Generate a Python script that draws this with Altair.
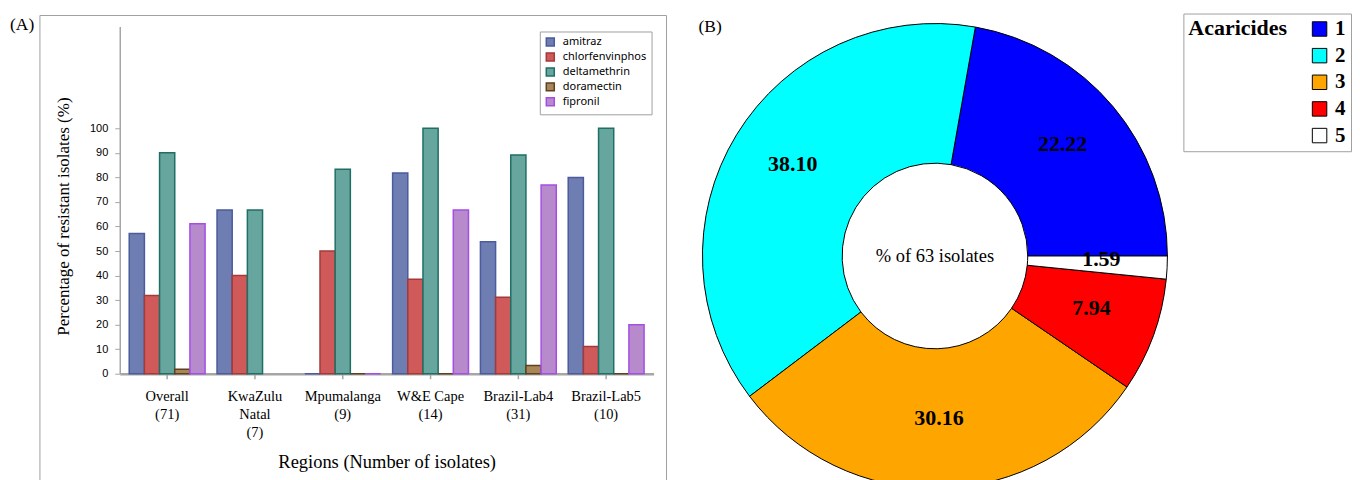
import math
import altair as alt
import pandas as pd

# ---------------- data ----------------
regions = ["Overall|(71)", "KwaZulu|Natal|(7)", "Mpumalanga|(9)",
           "W&E Cape|(14)", "Brazil-Lab4|(31)", "Brazil-Lab5|(10)"]
drugs = ["amitraz", "chlorfenvinphos", "deltamethrin", "doramectin", "fipronil"]
amitraz = [57.1, 66.7, 0.0, 81.8, 53.8, 80.0]
chlorfenvinphos = [31.9, 40.0, 50.0, 38.5, 31.2, 11.1]
deltamethrin = [90.1, 66.7, 83.3, 100.0, 89.1, 100.0]
doramectin = [1.8, None, 0.0, 0.0, 3.4, 0.0]
fipronil = [61.1, None, 0.0, 66.7, 76.9, 20.0]
y_ticks = [0, 10, 20, 30, 40, 50, 60, 70, 80, 90, 100]

fill_colors = ["#6E7EB2", "#D05A5A", "#67A69F", "#A88657", "#B78ACC"]
stroke_colors = ["#4B5B9B", "#A33A3A", "#1F6F64", "#5E4120", "#A54EE6"]

acaricides = ["1", "2", "3", "4", "5"]
pie_values = [22.22, 38.10, 30.16, 7.94, 1.59]
pie_colors = ["#0000FF", "#00FFFF", "#FFA500", "#FF0000", "#FFFFFF"]

SERIF = "Liberation Serif"
SANS = "Liberation Sans"

# ---------------- tables ----------------
series = [amitraz, chlorfenvinphos, deltamethrin, doramectin, fipronil]
rows = []
for d, vals in zip(drugs, series):
    for r, v in zip(regions, vals):
        if v is not None:
            rows.append({"region": r, "drug": d, "value": v})
bar_df = pd.DataFrame(rows)

pie_df = pd.DataFrame({
    "acaricide": acaricides,
    "value": pie_values,
    "label": [f"{v:.2f}" for v in pie_values],
    "ord": list(range(1, len(acaricides) + 1)),
})
one = pd.DataFrame({"k": [0]})

# ---------------- panel A ----------------
legA = alt.Legend(
    orient="none", legendX=421, legendY=5,
    symbolType="square", symbolSize=64, symbolStrokeWidth=1.5,
    labelFont="Noto Sans", labelFontSize=11, labelColor="black",
    labelOffset=7, rowPadding=0, padding=5,
    strokeColor="#A0A0A0", fillColor="white",
)

bars = alt.Chart(bar_df).mark_bar(strokeWidth=1.5).encode(
    x=alt.X("region:N", sort=regions,
            scale=alt.Scale(paddingInner=0.136, paddingOuter=0.108),
            axis=alt.Axis(title="Regions (Number of isolates)",
                          labelExpr="split(datum.label, '|')",
                          labelAngle=0, labelOverlap=False,
                          labelFont=SERIF, labelFontSize=14.5, labelColor="black",
                          labelLineHeight=18, labelPadding=11,
                          domainColor="#A6A6A6", domainWidth=2.5,
                          tickColor="#A6A6A6", tickWidth=1.5, tickSize=5,
                          titleFont=SERIF, titleFontSize=18.5, titleFontWeight="normal",
                          titleColor="black", titlePadding=13)),
    xOffset=alt.XOffset("drug:N", sort=drugs, scale=alt.Scale(domain=drugs)),
    y=alt.Y("value:Q",
            scale=alt.Scale(domain=[0, 141.5], nice=False, zero=True),
            axis=alt.Axis(title="Percentage of resistant isolates (%)",
                          values=y_ticks, grid=False,
                          labelFont=SANS, labelFontSize=11, labelColor="black",
                          labelPadding=7,
                          domainColor="#A6A6A6", domainWidth=1.5,
                          tickColor="#A6A6A6", tickWidth=1, tickSize=5,
                          titleFont=SERIF, titleFontSize=17, titleFontWeight="normal",
                          titleColor="black", titlePadding=17, titleY=190)),
    fill=alt.Fill("drug:N", title=None,
                  scale=alt.Scale(domain=drugs, range=fill_colors), legend=legA),
    stroke=alt.Stroke("drug:N", title=None,
                      scale=alt.Scale(domain=drugs, range=stroke_colors), legend=legA),
)

borderA = alt.Chart(one).mark_rect(fill="transparent", stroke="#A0A0A0", strokeWidth=1).encode(
    x=alt.value(-80), x2=alt.value(548), y=alt.value(-11), y2=alt.value(470)
)
tagA = alt.Chart(one).mark_text(text="(A)", font=SERIF, fontSize=17.5, align="left",
                                baseline="middle", color="black").encode(
    x=alt.value(-110), y=alt.value(-1)
)

panelA = alt.layer(borderA, bars, tagA).properties(width=535, height=348)

# ---------------- panel B ----------------
CX, CY = 237, 230
base = alt.Chart(pie_df).encode(
    theta=alt.Theta("value:Q", stack=True,
                    scale=alt.Scale(range=[math.pi / 2, math.pi / 2 + 2 * math.pi])),
    order=alt.Order("ord:Q", sort="descending"),
)
arcs = base.mark_arc(innerRadius=93, outerRadius=233, stroke="black", strokeWidth=1).encode(
    color=alt.Color("acaricide:N",
                    scale=alt.Scale(domain=acaricides, range=pie_colors),
                    legend=alt.Legend(
                        title="Acaricides", orient="none", legendX=1066, legendY=-13,
                        titleOrient="left", titleAnchor="start",
                        titleFont=SERIF, titleFontSize=22, titleFontWeight="bold",
                        titleColor="black", titlePadding=22,
                        labelFont=SERIF, labelFontSize=21, labelFontWeight="bold",
                        labelColor="black", labelOffset=5,
                        symbolType="square", symbolSize=210,
                        symbolStrokeColor="black", symbolStrokeWidth=1,
                        symbolOpacity=1, rowPadding=4.7, padding=5,
                        strokeColor="#A0A0A0", fillColor="white")),
    x=alt.value(CX), y=alt.value(CY),
)
labels = base.mark_text(radius=167, font=SERIF, fontSize=22, fontWeight="bold",
                        color="black", baseline="middle", dy=-5).encode(
    text="label:N", x=alt.value(CX), y=alt.value(CY)
)
center = alt.Chart(one).mark_text(text="% of 63 isolates", font=SERIF, fontSize=18.5,
                                  align="center", baseline="middle", color="black").encode(
    x=alt.value(CX), y=alt.value(CY)
)
tagB = alt.Chart(one).mark_text(text="(B)", font=SERIF, fontSize=17.5, align="left",
                                baseline="middle", color="black").encode(
    x=alt.value(0), y=alt.value(1)
)
panelB = alt.layer(arcs, labels, center, tagB).properties(width=470, height=440)

chart = alt.hconcat(panelA, panelB, spacing=31).properties(
    padding={"left": 2, "top": 4, "right": 0, "bottom": 0},
    background="white",
).configure_view(strokeWidth=0)

chart.save("out.html", embed_options={"renderer": "svg", "actions": False})
